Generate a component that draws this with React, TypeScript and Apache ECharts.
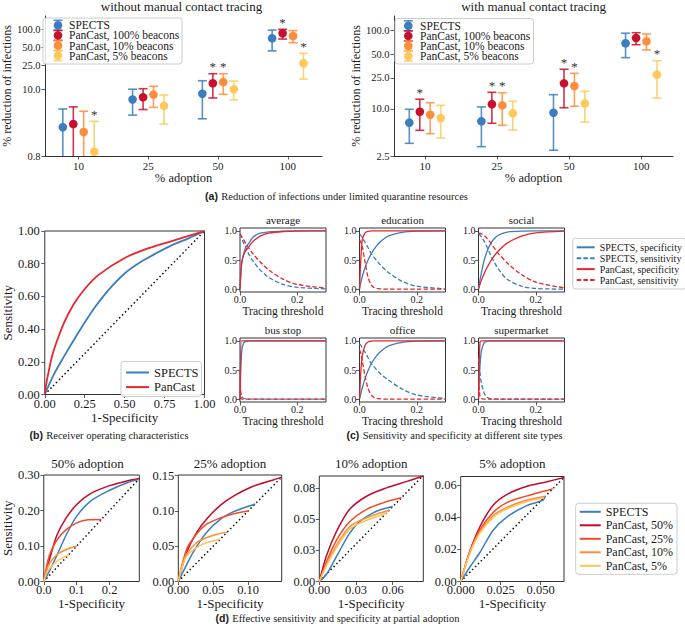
import React, { useEffect, useRef } from 'react';
import * as echarts from 'echarts';

const FONT = 'Liberation Serif';
const SANS = 'Liberation Sans';
const TXT = '#1a1a1a';
const AX = '#333333';

// ---------------- (a) Reduction of infections ----------------
const adoptionTicks = [0, 1, 2, 3];
const adoptionLabels = ['10', '25', '50', '100'];
const aSeriesNames = ['SPECTS', 'PanCast, 100% beacons', 'PanCast, 10% beacons', 'PanCast, 5% beacons'];
const aColors = ['#3b7dbf', '#c8102e', '#fd8d3c', '#fec95a'];
const aLeftTicks = [0.8, 10, 25, 50, 100];
const aLeftTickLabels = ['0.8', '10.0', '25.0', '50.0', '100.0'];
const aRightTicks = [2.5, 10, 25, 50, 100];
const aRightTickLabels = ['2.5', '10.0', '25.0', '50.0', '100.0'];

// without manual contact tracing
const noMctSpectsMean = [2.4, 6.9, 8.6, 71];
const noMctSpectsLow = [0.3, 3.8, 3.3, 44];
const noMctSpectsHigh = [4.8, 10.2, 14.1, 97];
const noMctSpectsStar = [0, 0, 0, 0];
const noMctP100Mean = [2.7, 7.5, 12.8, 86];
const noMctP100Low = [0.3, 4.7, 7.3, 69];
const noMctP100High = [5.2, 10.4, 18.4, 100];
const noMctP100Star = [0, 0, 1, 1];
const noMctP10Mean = [2.0, 8.3, 13.4, 77.5];
const noMctP10Low = [0.3, 5.1, 8.4, 60];
const noMctP10High = [4.4, 11.4, 18.4, 95];
const noMctP10Star = [0, 0, 1, 0];
const noMctP5Mean = [0.94, 5.4, 10.2, 27.4];
const noMctP5Low = [0.3, 2.7, 6.8, 15];
const noMctP5High = [3.0, 8.2, 13.9, 40];
const noMctP5Star = [1, 0, 0, 1];

// with manual contact tracing
const mctSpectsMean = [6.67, 6.94, 8.94, 69];
const mctSpectsLow = [3.63, 3.29, 2.96, 45.2];
const mctSpectsHigh = [9.89, 10.6, 15.2, 92.7];
const mctSpectsStar = [0, 0, 0, 0];
const mctP100Mean = [9.2, 11.5, 21.2, 80.7];
const mctP100Low = [5.32, 6.55, 10.35, 66.2];
const mctP100High = [13.3, 16.3, 32.1, 94.2];
const mctP100Star = [1, 1, 1, 0];
const mctP10Mean = [8.43, 11.1, 19.6, 73.1];
const mctP10Low = [4.82, 6.17, 10.8, 56.6];
const mctP10High = [12.0, 16.1, 28.5, 90.8];
const mctP10Star = [0, 1, 1, 0];
const mctP5Mean = [7.65, 8.79, 11.7, 27.4];
const mctP5Low = [4.25, 5.37, 6.8, 13.8];
const mctP5High = [11.1, 12.5, 16.8, 41.3];
const mctP5Star = [0, 0, 0, 1];

// ---------------- (b) ROC ----------------
const rocSpects = [[0, 0], [0.02, 0.045], [0.058, 0.125], [0.119, 0.23], [0.18, 0.33], [0.25, 0.44], [0.315, 0.535], [0.4, 0.64], [0.5, 0.74], [0.6, 0.81], [0.7, 0.865], [0.8, 0.915], [0.9, 0.955], [1, 1]];
const rocPanCast = [[0, 0], [0.01, 0.07], [0.02, 0.12], [0.043, 0.225], [0.07, 0.31], [0.119, 0.435], [0.18, 0.55], [0.25, 0.645], [0.335, 0.73], [0.5, 0.835], [0.65, 0.895], [0.8, 0.94], [0.9, 0.97], [1, 1]];
const rocDiagonal = [[0, 0], [1, 1]];
const unitTicksX = [0, 0.25, 0.5, 0.75, 1];
const unitTicksXLabels = ['0.00', '0.25', '0.50', '0.75', '1.00'];
const unitTicksY = [0, 0.2, 0.4, 0.6, 0.8, 1];
const unitTicksYLabels = ['0.00', '0.20', '0.40', '0.60', '0.80', '1.00'];

// ---------------- (c) site types ----------------
const cThreshold = [0, 0.005, 0.01, 0.02, 0.03, 0.04, 0.05, 0.07, 0.1, 0.15, 0.2, 0.3];
const avgSpectsSpec = [0, 0.4, 0.55, 0.72, 0.78, 0.86, 0.91, 0.96, 0.985, 0.998, 1, 1];
const avgSpectsSens = [0.95, 0.88, 0.82, 0.71, 0.61, 0.52, 0.45, 0.33, 0.2, 0.08, 0.03, 0.005];
const avgPanSpec = [0, 0.42, 0.55, 0.66, 0.72, 0.79, 0.84, 0.91, 0.96, 0.99, 0.998, 1];
const avgPanSens = [0.95, 0.91, 0.87, 0.79, 0.71, 0.64, 0.58, 0.47, 0.33, 0.17, 0.08, 0.015];
const eduSpectsSpec = [0, 0.12, 0.22, 0.38, 0.5, 0.6, 0.68, 0.8, 0.91, 0.975, 0.995, 1];
const eduSpectsSens = [0.95, 0.92, 0.88, 0.8, 0.71, 0.62, 0.55, 0.43, 0.29, 0.13, 0.05, 0.005];
const eduPanSpec = [0, 0.55, 0.85, 0.97, 0.99, 1, 1, 1, 1, 1, 1, 1];
const eduPanSens = [0.85, 0.8, 0.72, 0.45, 0.2, 0.08, 0.03, 0.005, 0, 0, 0, 0];
const socSpectsSpec = [0, 0.15, 0.28, 0.5, 0.65, 0.76, 0.84, 0.93, 0.98, 0.998, 1, 1];
const socSpectsSens = [0.95, 0.93, 0.9, 0.82, 0.72, 0.61, 0.51, 0.34, 0.17, 0.05, 0.01, 0];
const socPanSpec = [0, 0.08, 0.15, 0.27, 0.37, 0.46, 0.54, 0.66, 0.79, 0.91, 0.965, 0.995];
const socPanSens = [0.95, 0.96, 0.95, 0.92, 0.87, 0.81, 0.74, 0.61, 0.45, 0.25, 0.12, 0.02];
const busSpectsSpec = [0, 0.75, 0.93, 0.995, 1, 1, 1, 1, 1, 1, 1, 1];
const busSpectsSens = [0.15, 0.06, 0.02, 0.003, 0, 0, 0, 0, 0, 0, 0, 0];
const busPanSpec = [0, 1, 1, 1, 1, 1, 1, 1, 1, 1, 1, 1];
const busPanSens = [0.5, 0, 0, 0, 0, 0, 0, 0, 0, 0, 0, 0];
const offSpectsSpec = [0, 0.1, 0.2, 0.36, 0.49, 0.6, 0.68, 0.8, 0.91, 0.975, 0.995, 1];
const offSpectsSens = [0.95, 0.92, 0.88, 0.8, 0.71, 0.62, 0.56, 0.45, 0.33, 0.17, 0.07, 0.01];
const offPanSpec = [0, 0.5, 0.75, 0.93, 0.98, 0.995, 1, 1, 1, 1, 1, 1];
const offPanSens = [0.85, 0.78, 0.65, 0.38, 0.18, 0.08, 0.03, 0.005, 0, 0, 0, 0];
const supSpectsSpec = [0, 0.55, 0.82, 0.97, 0.995, 1, 1, 1, 1, 1, 1, 1];
const supSpectsSens = [0.7, 0.45, 0.28, 0.1, 0.03, 0.01, 0, 0, 0, 0, 0, 0];
const supPanSpec = [0, 0.97, 1, 1, 1, 1, 1, 1, 1, 1, 1, 1];
const supPanSens = [0.35, 0.05, 0.01, 0, 0, 0, 0, 0, 0, 0, 0, 0];
const siteTitles = ['average', 'education', 'social', 'bus stop', 'office', 'supermarket'];
const cTicksX = [0, 0.2];
const cTicksXLabels = ['0.0', '0.2'];
const cTicksY = [0, 0.5, 1];
const cTicksYLabels = ['0.0', '0.5', '1.0'];

// ---------------- (d) partial adoption ----------------
const dTitles = ['50% adoption', '25% adoption', '10% adoption', '5% adoption'];
const dNames = ['SPECTS', 'PanCast, 50%', 'PanCast, 25%', 'PanCast, 10%', 'PanCast, 5%'];
const dColors = ['#3b7dbf', '#c20a2c', '#f44a2c', '#fd8d3c', '#fec44f'];
// 50% adoption
const d50Spects = [[0, 0], [0.02, 0.035], [0.04, 0.074], [0.068, 0.131], [0.1, 0.184], [0.143, 0.227], [0.2, 0.257], [0.255, 0.279], [0.287, 0.287]];
const d50Pan50 = [[0, 0], [0.01, 0.04], [0.021, 0.074], [0.04, 0.131], [0.068, 0.179], [0.1, 0.217], [0.143, 0.248], [0.2, 0.27], [0.255, 0.284], [0.29, 0.29]];
const d50Pan25 = [[0, 0], [0.017, 0.074], [0.04, 0.117], [0.068, 0.146], [0.1, 0.165], [0.134, 0.174], [0.175, 0.175]];
const d50Pan10 = [[0, 0], [0.008, 0.03], [0.017, 0.05], [0.04, 0.076], [0.068, 0.09], [0.1, 0.1]];
const d50Pan5 = [[0, 0], [0.008, 0.022], [0.017, 0.036], [0.04, 0.057], [0.06, 0.068], [0.075, 0.075]];
// 25% adoption
const d25Spects = [[0, 0], [0.01, 0.02], [0.021, 0.041], [0.04, 0.069], [0.06, 0.088], [0.079, 0.099], [0.098, 0.106], [0.11, 0.11]];
const d25Pan50 = [[0, 0], [0.012, 0.041], [0.026, 0.069], [0.04, 0.088], [0.06, 0.108], [0.079, 0.121], [0.107, 0.135], [0.136, 0.144], [0.148, 0.148]];
const d25Pan25 = [[0, 0], [0.012, 0.046], [0.026, 0.067], [0.04, 0.081], [0.06, 0.09], [0.079, 0.096], [0.1, 0.1]];
const d25Pan10 = [[0, 0], [0.006, 0.025], [0.012, 0.039], [0.026, 0.055], [0.04, 0.062], [0.055, 0.067], [0.07, 0.07]];
const d25Pan5 = [[0, 0], [0.006, 0.022], [0.012, 0.036], [0.026, 0.048], [0.04, 0.055], [0.06, 0.06]];
// 10% adoption
const d10Spects = [[0, 0], [0.006, 0.006], [0.014, 0.02], [0.025, 0.039], [0.033, 0.048], [0.044, 0.055], [0.052, 0.058], [0.06, 0.06]];
const d10Pan50 = [[0, 0], [0.006, 0.021], [0.014, 0.04], [0.025, 0.058], [0.039, 0.0685], [0.055, 0.075], [0.071, 0.08], [0.085, 0.0845]];
const d10Pan25 = [[0, 0], [0.006, 0.016], [0.014, 0.033], [0.025, 0.048], [0.039, 0.058], [0.052, 0.063], [0.067, 0.067]];
const d10Pan10 = [[0, 0], [0.006, 0.014], [0.014, 0.029], [0.025, 0.044], [0.036, 0.05], [0.047, 0.054], [0.057, 0.057]];
const d10Pan5 = [[0, 0], [0.006, 0.013], [0.014, 0.027], [0.025, 0.042], [0.036, 0.048], [0.047, 0.052], [0.055, 0.055]];
// 5% adoption
const d5Spects = [[0, 0], [0.0058, 0.009], [0.012, 0.018], [0.0204, 0.032], [0.0288, 0.04], [0.041, 0.047], [0.0517, 0.0506], [0.0525, 0.0525]];
const d5Pan50 = [[0, 0], [0.0058, 0.019], [0.012, 0.034], [0.0204, 0.0475], [0.0288, 0.054], [0.041, 0.059], [0.054, 0.062], [0.0646, 0.0646]];
const d5Pan25 = [[0, 0], [0.0058, 0.019], [0.012, 0.032], [0.0204, 0.043], [0.0288, 0.049], [0.041, 0.053], [0.0517, 0.056], [0.0575, 0.0575]];
const d5Pan10 = [[0, 0], [0.0058, 0.018], [0.012, 0.031], [0.0204, 0.041], [0.0288, 0.046], [0.041, 0.0505], [0.053, 0.053]];
const d5Pan5 = [[0, 0], [0.0058, 0.0177], [0.012, 0.03], [0.0204, 0.04], [0.0288, 0.045], [0.041, 0.0495], [0.052, 0.052]];
const dDiag50 = [[0, 0], [0.29, 0.29]];
const dDiag25 = [[0, 0], [0.148, 0.148]];
const dDiag10 = [[0, 0], [0.085, 0.085]];
const dDiag5 = [[0, 0], [0.0646, 0.0646]];
const d50TicksX = [0, 0.1, 0.2];
const d50TicksXLabels = ['0.0', '0.1', '0.2'];
const d50TicksY = [0, 0.1, 0.2, 0.3];
const d50TicksYLabels = ['0.00', '0.10', '0.20', '0.30'];
const d25TicksX = [0, 0.05, 0.1];
const d25TicksXLabels = ['0.00', '0.05', '0.10'];
const d25TicksY = [0, 0.05, 0.1, 0.15];
const d25TicksYLabels = ['0.00', '0.05', '0.10', '0.15'];
const d10TicksX = [0, 0.03, 0.06];
const d10TicksXLabels = ['0.00', '0.03', '0.06'];
const d10TicksY = [0, 0.025, 0.05, 0.075];
const d10TicksYLabels = ['0.00', '0.03', '0.05', '0.08'];
const d5TicksX = [0, 0.025, 0.05];
const d5TicksXLabels = ['0.000', '0.025', '0.050'];
const d5TicksY = [0, 0.02, 0.04, 0.06];
const d5TicksYLabels = ['0.00', '0.02', '0.04', '0.06'];

// ------------------------------------------------------------
function fmt(values: number[], labels: string[]) {
  return (v: number) => {
    let b = 0;
    for (let i = 1; i < values.length; i++) if (Math.abs(values[i] - v) < Math.abs(values[b] - v)) b = i;
    return labels[b];
  };
}

function axis(gi: number, min: number, max: number, ticks: number[], labels: string[], o: any) {
  return {
    type: 'value', gridIndex: gi, min, max,
    axisLine: { show: !!o.line, onZero: false, lineStyle: { color: AX, width: 1 } },
    axisTick: { show: true, customValues: ticks, length: 3.5, lineStyle: { color: AX, width: 0.8 } },
    axisLabel: { customValues: ticks, formatter: fmt(ticks, labels), fontFamily: FONT, fontSize: o.fs, color: TXT, margin: o.margin, hideOverlap: false },
    splitLine: { show: false },
    name: o.name || '', nameLocation: 'middle', nameGap: o.nameGap || 0,
    nameTextStyle: { fontFamily: FONT, fontSize: o.nameFs || 12, color: TXT },
  };
}

const lg = (v: number) => Math.log10(v);
const A_OFFSETS = [-15.7, -5.2, 5.2, 15.7];

function errSeries(gi: number, si: number, mean: number[], low: number[], high: number[], star: number[]) {
  const color = aColors[si];
  return {
    type: 'custom', name: 'a' + gi + '|' + aSeriesNames[si], xAxisIndex: gi, yAxisIndex: gi, clip: true, silent: true,
    data: mean.map((m, i) => [adoptionTicks[i], lg(m), lg(low[i]), lg(high[i]), star[i]]),
    renderItem: (params: any, api: any) => {
      const p = api.coord([api.value(0), api.value(1)]);
      const lo = api.coord([api.value(0), api.value(2)]);
      const hi = api.coord([api.value(0), api.value(3)]);
      const x = p[0] + A_OFFSETS[si];
      const ls = { stroke: color, lineWidth: 1.6, opacity: 0.85 };
      const children: any[] = [
        { type: 'line', shape: { x1: x, y1: hi[1], x2: x, y2: lo[1] }, style: ls },
        { type: 'line', shape: { x1: x - 4.5, y1: hi[1], x2: x + 4.5, y2: hi[1] }, style: ls },
        { type: 'line', shape: { x1: x - 4.5, y1: lo[1], x2: x + 4.5, y2: lo[1] }, style: ls },
        { type: 'circle', shape: { cx: x, cy: p[1], r: 4.3 }, style: { fill: color } },
      ];
      if (api.value(4)) {
        children.push({ type: 'text', x, y: hi[1] - 7, style: { text: '*', fill: '#333', fontSize: 13, fontFamily: FONT, align: 'center', verticalAlign: 'middle' } });
      }
      return { type: 'group', children };
    },
  };
}

function line(name: string, gi: number, data: any[], color: string, width: number, type: any, z = 2) {
  return {
    type: 'line', name, xAxisIndex: gi, yAxisIndex: gi, data, showSymbol: false, symbol: 'none',
    smooth: 0.3, silent: true, z,
    lineStyle: { color, width, type }, itemStyle: { color },
  };
}

function gtext(text: string, x: number, y: number, fs: number, extra: any = {}) {
  return {
    type: 'text', x, y, silent: true, z: 100,
    style: { text, fontFamily: FONT, fontSize: fs, fill: TXT, align: 'center', verticalAlign: 'middle', textAlign: 'center', textVerticalAlign: 'middle', ...extra },
  };
}

function caption(label: string, text: string, cx: number, y: number) {
  return {
    type: 'text', x: cx, y, silent: true, z: 100,
    style: {
      text: '{b|' + label + '} {n|' + text + '}', align: 'center', verticalAlign: 'middle', textAlign: 'center', textVerticalAlign: 'middle',
      rich: { b: { fontFamily: SANS, fontWeight: 'bold', fontSize: 10.5, fill: TXT, color: TXT }, n: { fontFamily: FONT, fontSize: 10.5, fill: TXT, color: TXT } },
    },
  };
}

function legendA(x0: number, y0: number, w: number, h: number, mx: number, tx: number) {
  const els: any[] = [{ type: 'rect', shape: { x: x0, y: y0, width: w, height: h, r: 3 }, style: { fill: 'rgba(255,255,255,0.85)', stroke: '#cccccc', lineWidth: 1 }, z: 100, silent: true }];
  aSeriesNames.forEach((n, i) => {
    const y = y0 + 7.3 + i * 10.1;
    const c = aColors[i];
    const ls = { stroke: c, lineWidth: 1.6, opacity: 0.85 };
    els.push({ type: 'line', shape: { x1: mx, y1: y - 5, x2: mx, y2: y + 5 }, style: ls, z: 101, silent: true });
    els.push({ type: 'line', shape: { x1: mx - 4.5, y1: y - 5, x2: mx + 4.5, y2: y - 5 }, style: ls, z: 101, silent: true });
    els.push({ type: 'line', shape: { x1: mx - 4.5, y1: y + 5, x2: mx + 4.5, y2: y + 5 }, style: ls, z: 101, silent: true });
    els.push({ type: 'circle', shape: { cx: mx, cy: y, r: 4.3 }, style: { fill: c }, z: 102, silent: true });
    els.push({ type: 'text', x: tx, y, z: 102, silent: true, style: { text: n, fontFamily: FONT, fontSize: 11.5, fill: TXT, align: 'left', verticalAlign: 'middle', textAlign: 'left', textVerticalAlign: 'middle' } });
  });
  return els;
}

function buildOption() {
  const grids: any[] = [];
  const xAxes: any[] = [];
  const yAxes: any[] = [];
  const series: any[] = [];
  const graphic: any[] = [];

  // ----- (a)
  grids.push({ left: 41, top: 16, width: 281, height: 140 });
  xAxes.push(axis(0, -0.48, 3.49, adoptionTicks, adoptionLabels, { fs: 11, margin: 4, line: true, name: '% adoption', nameGap: 12, nameFs: 12.5 }));
  yAxes.push(axis(0, lg(0.8), lg(166), aLeftTicks.map(lg), aLeftTickLabels, { fs: 10.5, margin: 4.5, line: true, name: '% reduction of infections', nameGap: 29, nameFs: 12 }));
  grids.push({ left: 394, top: 16, width: 279, height: 140 });
  xAxes.push(axis(1, -0.43, 3.44, adoptionTicks, adoptionLabels, { fs: 11, margin: 4, line: true, name: '% adoption', nameGap: 12, nameFs: 12.5 }));
  yAxes.push(axis(1, lg(2.5), lg(154), aRightTicks.map(lg), aRightTickLabels, { fs: 10.5, margin: 4.5, line: true, name: '% reduction of infections', nameGap: 31, nameFs: 12 }));
  series.push(errSeries(0, 0, noMctSpectsMean, noMctSpectsLow, noMctSpectsHigh, noMctSpectsStar));
  series.push(errSeries(0, 1, noMctP100Mean, noMctP100Low, noMctP100High, noMctP100Star));
  series.push(errSeries(0, 2, noMctP10Mean, noMctP10Low, noMctP10High, noMctP10Star));
  series.push(errSeries(0, 3, noMctP5Mean, noMctP5Low, noMctP5High, noMctP5Star));
  series.push(errSeries(1, 0, mctSpectsMean, mctSpectsLow, mctSpectsHigh, mctSpectsStar));
  series.push(errSeries(1, 1, mctP100Mean, mctP100Low, mctP100High, mctP100Star));
  series.push(errSeries(1, 2, mctP10Mean, mctP10Low, mctP10High, mctP10Star));
  series.push(errSeries(1, 3, mctP5Mean, mctP5Low, mctP5High, mctP5Star));
  graphic.push(gtext('without manual contact tracing', 181.5, 6.5, 13));
  graphic.push(gtext('with manual contact tracing', 533.5, 6.5, 13));
  graphic.push(...legendA(43, 18, 139, 46, 58, 69));
  graphic.push(...legendA(395, 18.5, 138.5, 45.5, 408.3, 420));
  graphic.push(caption('(a)', 'Reduction of infections under limited quarantine resources', 336.5, 196));

  // ----- (b)
  grids.push({ left: 40.5, top: 231, width: 164, height: 163.5, show: true, borderColor: AX, borderWidth: 1 });
  xAxes.push(axis(2, 0, 1, unitTicksX, unitTicksXLabels, { fs: 12.5, margin: 3, name: '1-Specificity', nameGap: 15, nameFs: 13 }));
  yAxes.push(axis(2, 0, 1, unitTicksY, unitTicksYLabels, { fs: 12.5, margin: 5, name: 'Sensitivity', nameGap: 28, nameFs: 13 }));
  series.push(line('b|diag', 2, rocDiagonal, '#111111', 1.5, [1.5, 2.6], 1));
  series.push(line('b|SPECTS', 2, rocSpects, '#3b7dbf', 1.8, 'solid'));
  series.push(line('b|PanCast', 2, rocPanCast, '#e8262b', 1.8, 'solid'));
  graphic.push(caption('(b)', 'Receiver operating characteristics', 109, 435));

  // ----- (c)
  const cPanels = [
    [avgSpectsSpec, avgSpectsSens, avgPanSpec, avgPanSens],
    [eduSpectsSpec, eduSpectsSens, eduPanSpec, eduPanSens],
    [socSpectsSpec, socSpectsSens, socPanSpec, socPanSens],
    [busSpectsSpec, busSpectsSens, busPanSpec, busPanSens],
    [offSpectsSpec, offSpectsSens, offPanSpec, offPanSens],
    [supSpectsSpec, supSpectsSens, supPanSpec, supPanSens],
  ];
  const cLefts = [240, 359.5, 478.5];
  const cTops = [228, 338];
  const cNames = ['c|SPECTS, specificity', 'c|SPECTS, sensitivity', 'c|PanCast, specificity', 'c|PanCast, sensitivity'];
  const cCols = ['#3b7dbf', '#3b7dbf', '#e8262b', '#e8262b'];
  const cTypes: any[] = ['solid', [4.5, 2.2], 'solid', [4.5, 2.2]];
  cPanels.forEach((curves, k) => {
    const gi = 3 + k;
    const left = cLefts[k % 3];
    const top = cTops[Math.floor(k / 3)];
    grids.push({ left, top, width: 86, height: 64, show: true, borderColor: AX, borderWidth: 1 });
    xAxes.push(axis(gi, 0, 0.3, cTicksX, cTicksXLabels, { fs: 10, margin: 2, name: 'Tracing threshold', nameGap: 11.5, nameFs: 11.5 }));
    yAxes.push(axis(gi, -0.05, 1.05, cTicksY, cTicksYLabels, { fs: 10, margin: 3 }));
    curves.forEach((vals, j) => {
      series.push(line(cNames[j], gi, cThreshold.map((t, i) => [t, vals[i]]), cCols[j], 1.3, cTypes[j], 2 + j));
    });
    graphic.push(gtext(siteTitles[k], left + 43, top - 8.5, 11));
  });
  graphic.push(caption('(c)', 'Sensitivity and specificity at different site types', 454.5, 435));

  // ----- (d)
  const dPanels = [
    { left: 35.7, top: 475, w: 103.6, h: 106.5, xmax: 0.29, ymax: 0.30, tx: d50TicksX, txl: d50TicksXLabels, ty: d50TicksY, tyl: d50TicksYLabels, curves: [d50Spects, d50Pan50, d50Pan25, d50Pan10, d50Pan5], diag: dDiag50 },
    { left: 178.3, top: 475, w: 103.4, h: 106.5, xmax: 0.148, ymax: 0.151, tx: d25TicksX, txl: d25TicksXLabels, ty: d25TicksY, tyl: d25TicksYLabels, curves: [d25Spects, d25Pan50, d25Pan25, d25Pan10, d25Pan5], diag: dDiag25 },
    { left: 319.3, top: 476, w: 104, h: 105.5, xmax: 0.085, ymax: 0.0845, tx: d10TicksX, txl: d10TicksXLabels, ty: d10TicksY, tyl: d10TicksYLabels, curves: [d10Spects, d10Pan50, d10Pan25, d10Pan10, d10Pan5], diag: dDiag10 },
    { left: 460.7, top: 476.5, w: 103.3, h: 105, xmax: 0.0646, ymax: 0.0652, tx: d5TicksX, txl: d5TicksXLabels, ty: d5TicksY, tyl: d5TicksYLabels, curves: [d5Spects, d5Pan50, d5Pan25, d5Pan10, d5Pan5], diag: dDiag5 },
  ];
  dPanels.forEach((P, k) => {
    const gi = 9 + k;
    grids.push({ left: P.left, top: P.top, width: P.w, height: P.h, show: true, borderColor: AX, borderWidth: 1 });
    xAxes.push(axis(gi, 0, P.xmax, P.tx, P.txl, { fs: 12.5, margin: 2, name: '1-Specificity', nameGap: 12, nameFs: 13 }));
    yAxes.push(axis(gi, 0, P.ymax, P.ty, P.tyl, { fs: 12.5, margin: 4, name: k === 0 ? 'Sensitivity' : '', nameGap: 23, nameFs: 13 }));
    series.push(line('d|diag', gi, P.diag, '#111111', 1.5, [1.5, 2.6], 1));
    P.curves.forEach((c, j) => series.push(line('d|' + dNames[j], gi, c, dColors[j], 1.5, 'solid', 2 + j)));
    graphic.push(gtext(dTitles[k], P.left + P.w / 2, 463.5, 13));
  });
  graphic.push(caption('(d)', 'Effective sensitivity and specificity at partial adoption', 337.5, 618));

  const legendFmt = (n: string) => n.split('|')[1];
  const legendBase = {
    orient: 'vertical', selectedMode: false, backgroundColor: 'rgba(255,255,255,0.9)', borderColor: '#cccccc', borderWidth: 1, borderRadius: 3,
    formatter: legendFmt, z: 50, itemStyle: { opacity: 0 },
  };
  const legend = [
    { ...legendBase, left: 121, top: 361.5, data: ['b|SPECTS', 'b|PanCast'], itemWidth: 23, itemHeight: 10, itemGap: 1.6, padding: [4.5, 3, 3, 4], textStyle: { fontFamily: FONT, fontSize: 12.5, color: TXT, lineHeight: 10 } },
    { ...legendBase, left: 572.7, top: 238.3, data: cNames, itemWidth: 18, itemHeight: 8, itemGap: 0.9, padding: [4, 4, 4, 3], textStyle: { fontFamily: FONT, fontSize: 10, color: TXT, lineHeight: 8 } },
    { ...legendBase, left: 575.7, top: 503.3, data: dNames.map((n) => 'd|' + n), itemWidth: 21, itemHeight: 9, itemGap: 1.5, padding: [2.5, 4, 2.5, 3], textStyle: { fontFamily: FONT, fontSize: 12, color: TXT, lineHeight: 9 } },
  ];

  return {
    animation: false,
    backgroundColor: '#ffffff',
    textStyle: { fontFamily: FONT, color: TXT },
    grid: grids,
    xAxis: xAxes,
    yAxis: yAxes,
    series,
    legend,
    graphic,
  };
}

export default function App() {
  const ref = useRef<HTMLDivElement>(null);
  useEffect(() => {
    document.body.style.margin = '0';
    const chart = echarts.init(ref.current as HTMLDivElement, null, { renderer: 'svg', width: 685, height: 624 });
    chart.setOption(buildOption() as any);
    return () => chart.dispose();
  }, []);
  return <div ref={ref} style={{ position: 'absolute', left: 0, top: 0, width: 685, height: 624, background: '#fff' }} />;
}
